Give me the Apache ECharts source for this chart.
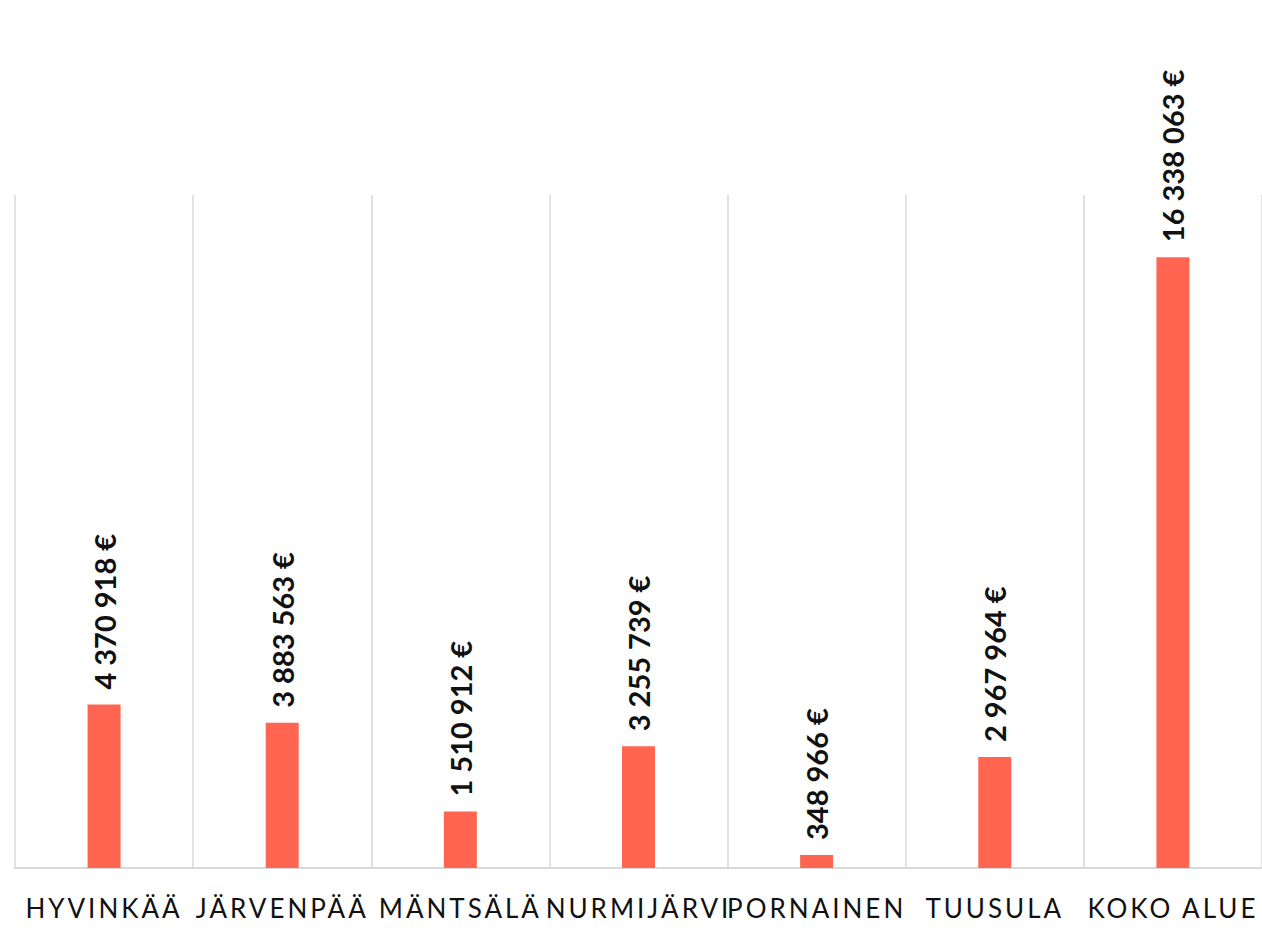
<!DOCTYPE html>
<html>
<head>
<meta charset="utf-8">
<script src="https://cdn.jsdelivr.net/npm/echarts@6/dist/echarts.min.js"></script>
<style>
  html, body { margin: 0; padding: 0; background: #fff; }
  #chart { width: 1262px; height: 937px; }
</style>
</head>
<body>
<div id="chart"></div>
<script>
const categories = ['HYVINKÄÄ', 'JÄRVENPÄÄ', 'MÄNTSÄLÄ', 'NURMIJÄRVI', 'PORNAINEN', 'TUUSULA', 'KOKO ALUE'];
const values = [4370918, 3883563, 1510912, 3255739, 348966, 2967964, 16338063];

function fmt(v) {
  return String(v).replace(/\B(?=(\d{3})+(?!\d))/g, ' ') + ' €';
}

const chart = echarts.init(document.getElementById('chart'), null, { renderer: 'svg' });
chart.setOption({
  backgroundColor: '#ffffff',
  animation: false,
  grid: { left: 15, top: 195, width: 1252, height: 673, containLabel: false },
  xAxis: {
    type: 'category',
    data: categories,
    axisLine: { show: true, lineStyle: { color: '#d9d9d9', width: 2 } },
    axisTick: { show: false },
    splitLine: { show: true, lineStyle: { color: '#d9d9d9', width: 1.5 } },
    axisLabel: {
      interval: 0,
      margin: 27,
      color: '#111111',
      fontFamily: 'Lato',
      fontSize: 26,
      fontWeight: 'normal'
    }
  },
  yAxis: {
    type: 'value',
    min: 0,
    max: 18000000,
    show: false,
    splitLine: { show: false }
  },
  series: [{
    type: 'bar',
    data: values,
    barWidth: 33,
    itemStyle: { color: '#FF6550' },
    label: {
      show: true,
      position: 'top',
      rotate: 90,
      align: 'left',
      verticalAlign: 'middle',
      distance: 15,
      color: '#111111',
      fontFamily: 'Lato',
      fontSize: 29,
      fontWeight: 'bold',
      formatter: p => fmt(p.value)
    }
  }]
});

function spaceLabels() {
  document.querySelectorAll('#chart svg text').forEach(t => {
    if (categories.indexOf(t.textContent.trim()) >= 0) {
      t.style.letterSpacing = '3px';
    }
  });
}
chart.on('finished', spaceLabels);
spaceLabels();
setTimeout(spaceLabels, 50);
</script>
</body>
</html>
